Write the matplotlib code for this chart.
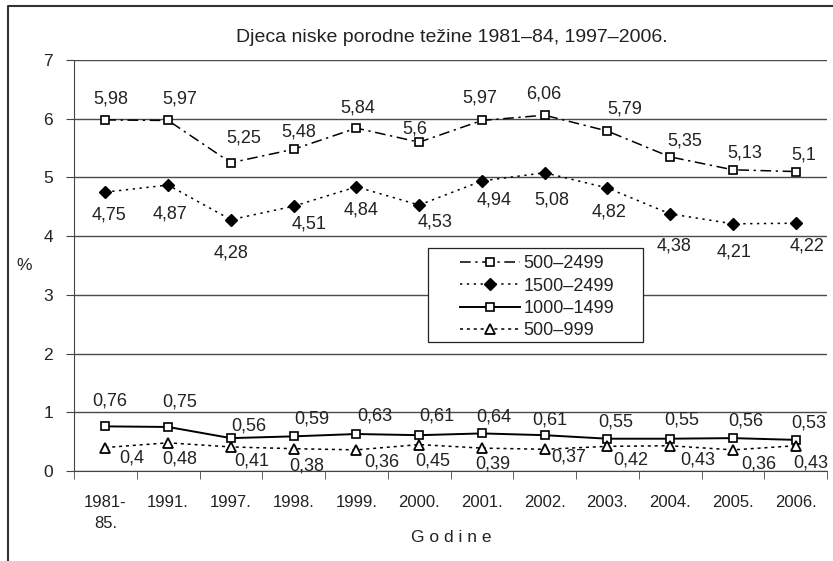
import numpy as np
import matplotlib.pyplot as plt
from matplotlib.lines import Line2D
from matplotlib.patches import Rectangle

plt.rcParams['font.family'] = ['Liberation Sans', 'DejaVu Sans']

# podaci
godine = ['1981-\n85.', '1991.', '1997.', '1998.', '1999.', '2000.',
          '2001.', '2002.', '2003.', '2004.', '2005.', '2006.']
s500_2499 = [5.98, 5.97, 5.25, 5.48, 5.84, 5.6, 5.97, 6.06, 5.79, 5.35, 5.13, 5.1]
s1500_2499 = [4.75, 4.87, 4.28, 4.51, 4.84, 4.53, 4.94, 5.08, 4.82, 4.38, 4.21, 4.22]
s1000_1499 = [0.76, 0.75, 0.56, 0.59, 0.63, 0.61, 0.64, 0.61, 0.55, 0.55, 0.56, 0.53]
s500_999 = [0.4, 0.48, 0.41, 0.38, 0.36, 0.45, 0.39, 0.37, 0.42, 0.43, 0.36, 0.43]

# pomaci oznaka (pikseli)
off_a = [(5, 21), (12, 21), (13, 25), (5, 17), (1, 20), (-4, 13),
         (-2, 22), (-1, 21), (17, 22), (15, 16), (12, 17), (8, 17)]
off_b = [(4, -23), (2, -29), (0, -33), (15, -18), (5, -23), (16, -17),
         (12, -19), (7, -27), (2, -24), (4, -32), (1, -28), (11, -23)]
off_c = [(4, 25), (12, 25), (18, 12), (18, 17), (18, 18), (18, 19),
         (12, 16), (5, 15), (8, 17), (12, 19), (13, 17), (13, 17)]
off_d = [(26, -10), (12, -16), (21, -14), (13, -17), (25, -12), (14, -16),
         (11, -16), (24, -8), (23, -14), (28, -14), (26, -14), (15, -17)]

txt = '#222222'
fig = plt.figure(figsize=(8.33, 5.61), dpi=100)
ax = fig.add_axes([74 / 833, 90 / 561, 753 / 833, 411 / 561])

x = np.arange(len(godine))
ax.plot(x, s500_2499, color='black', lw=1.1, dashes=(7, 3, 1.5, 3),
        marker='s', ms=5.5, mfc='white', mec='black', mew=1.2, label='500–2499', zorder=3)
ax.plot(x, s1500_2499, color='black', lw=1.1, dashes=(1.5, 3),
        marker='D', ms=6, mfc='black', mec='black', label='1500–2499', zorder=3)
ax.plot(x, s1000_1499, color='black', lw=1.4, ls='-',
        marker='s', ms=5.5, mfc='white', mec='black', mew=1.2, label='1000–1499', zorder=3)
ax.plot(x, s500_999, color='black', lw=1.1, dashes=(2, 2.5),
        marker='^', ms=7, mfc='white', mec='black', mew=1.3, label='500–999', zorder=3)

def fmt(v):
    return ('%g' % v).replace('.', ',')

for serie, offs in [(s500_2499, off_a), (s1500_2499, off_b),
                    (s1000_1499, off_c), (s500_999, off_d)]:
    for i, v in enumerate(serie):
        ax.annotate(fmt(v), (x[i], v), xytext=offs[i], textcoords='offset pixels',
                    ha='center', va='center', fontsize=13, color=txt, zorder=6)

ax.set_xlim(-0.5, len(godine) - 0.5)
ax.set_ylim(0, 7)
ax.set_yticks(range(8))
ax.grid(axis='y', color='#4a4a4a', lw=1.0)
ax.set_axisbelow(True)
ax.set_xticks(x)
ax.set_xticklabels(godine, fontsize=12, color=txt, linespacing=1.5)
ax.set_xticks(np.arange(len(godine) + 1) - 0.5, minor=True)
ax.tick_params(axis='x', which='major', length=0, pad=17)
ax.tick_params(axis='x', which='minor', length=6, color='#444444')
ax.tick_params(axis='y', length=6, labelsize=12.5, labelcolor=txt, color='#444444', pad=9)
for s in ['top', 'right']:
    ax.spines[s].set_visible(False)
for s in ['left', 'bottom']:
    ax.spines[s].set_color('#444444')

ax.set_ylabel('%', rotation=0, fontsize=12.5, color=txt, labelpad=14, va='center')
fig.text(451 / 833, 1 - 537 / 561, 'G o d i n e', ha='center', va='center', fontsize=12.5, color=txt)
fig.text(452 / 833, 1 - 37 / 561, 'Djeca niske porodne težine 1981–84, 1997–2006.',
         ha='center', va='center', fontsize=14, color=txt)

# okvir legende
ax.add_patch(Rectangle((0.470, 0.314), 0.286, 0.229, transform=ax.transAxes,
                       facecolor='white', edgecolor='#222222', lw=0.9, zorder=4))
leg = ax.legend(loc='upper left', bbox_to_anchor=(0.5126, 0.525), frameon=False,
                fontsize=13, handlelength=3.3, handletextpad=0.2, labelspacing=0.3,
                borderpad=0, borderaxespad=0)
leg.set_zorder(5)
for t in leg.get_texts():
    t.set_color(txt)

# vanjski okvir
fig.add_artist(Line2D([8 / 833, 8 / 833, 1], [0, 1 - 6 / 561, 1 - 6 / 561],
                      transform=fig.transFigure, color='#333333', lw=1.5))

fig.savefig('out.png', dpi=100)
